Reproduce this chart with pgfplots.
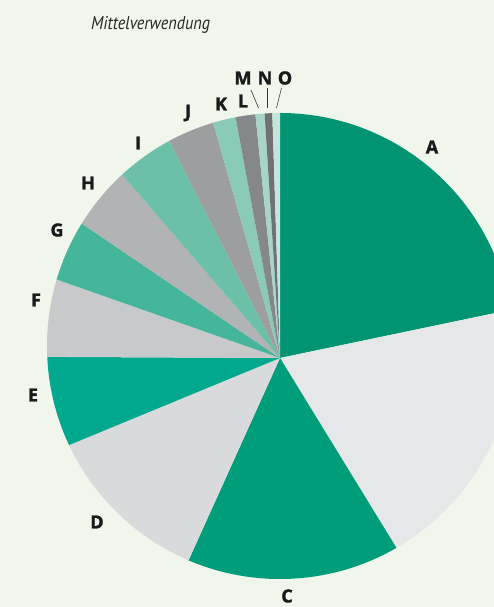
\documentclass[border=0pt]{standalone}
\usepackage{pgfplots}
\pgfplotsset{compat=1.18}
\usepackage{pgfplotstable}
\usepackage{fontspec}
\setmainfont{Open Sans}
\newfontfamily\titlefont{PT Sans}
\newfontfamily\labfont{Open Sans}[BoldFeatures={FakeBold=1.6}]

\definecolor{bg}{HTML}{F1F6EC}
\definecolor{cA}{HTML}{009473}
\definecolor{cB}{HTML}{E6E7E9}
\definecolor{cC}{HTML}{009D7B}
\definecolor{cD}{HTML}{D9DADC}
\definecolor{cE}{HTML}{00A88E}
\definecolor{cF}{HTML}{C8C9CB}
\definecolor{cG}{HTML}{46B69B}
\definecolor{cH}{HTML}{B2B3B5}
\definecolor{cI}{HTML}{6CC0A9}
\definecolor{cJ}{HTML}{9D9EA0}
\definecolor{cK}{HTML}{8ACBB8}
\definecolor{cL}{HTML}{86878A}
\definecolor{cM}{HTML}{A7D6C9}
\definecolor{cN}{HTML}{707174}
\definecolor{cO}{HTML}{C5E4DA}

% share in percent, label position
\pgfplotstableread{
label share lx ly
A 21.7 432 460
B 19.5 499 137
C 15.5 287 11
D 12.0 97 85
E 6.3 33 212
F 5.3 36 307
G 4.1 57 377
H 4.2 88 424
I 3.8 138 464
J 3.1 188 494
K 1.5 221 503
L 1.3 243 506
M 0.6 243 529
N 0.5 265 529
O 0.5 285 529
}\piedata

\pgfplotstablegetrowsof{\piedata}
\pgfmathtruncatemacro{\nrows}{\pgfplotsretval-1}
\gdef\total{0}
\foreach \i in {0,...,\nrows}{%
  \pgfplotstablegetelem{\i}{share}\of\piedata
  \pgfmathsetmacro{\t}{\total+\pgfplotsretval}%
  \xdef\total{\t}%
}

\begin{document}
\begin{tikzpicture}
\useasboundingbox (0,0) rectangle (494pt,607pt);
\clip (0,0) rectangle (494pt,607pt);
\fill[bg] (0,0) rectangle (494pt,607pt);
\begin{axis}[
  at={(0,0)}, anchor=south west,
  scale only axis, width=494pt, height=607pt,
  xmin=0, xmax=494, ymin=0, ymax=607,
  hide axis, clip=false,
]
\begin{scope}
\clip (axis cs:280,261) circle[radius=233pt];
\gdef\cum{0}
\foreach \i in {0,...,\nrows}{%
  \pgfplotstablegetelem{\i}{share}\of\piedata
  \let\v\pgfplotsretval
  \pgfplotstablegetelem{\i}{label}\of\piedata
  \let\lab\pgfplotsretval
  \pgfmathsetmacro{\aa}{90-\cum/\total*360}%
  \pgfmathsetmacro{\ab}{90-(\cum+\v)/\total*360}%
  \pgfmathsetmacro{\xa}{280+700*cos(\aa)}%
  \pgfmathsetmacro{\ya}{249+700*sin(\aa)}%
  \pgfmathsetmacro{\xb}{280+700*cos(\ab)}%
  \pgfmathsetmacro{\yb}{249+700*sin(\ab)}%
  \pgfmathsetmacro{\am}{(\aa+\ab)/2}%
  \pgfmathsetmacro{\xm}{280+700*cos(\am)}%
  \pgfmathsetmacro{\ym}{249+700*sin(\am)}%
  \edef\temp{\noexpand\fill[c\lab] (axis cs:280,249) -- (axis cs:\xa,\ya) -- (axis cs:\xm,\ym) -- (axis cs:\xb,\yb) -- cycle;}%
  \temp
  \pgfmathsetmacro{\c}{\cum+\v}%
  \xdef\cum{\c}%
}
\end{scope}
\foreach \i in {0,...,\nrows}{%
  \pgfplotstablegetelem{\i}{label}\of\piedata
  \let\lab\pgfplotsretval
  \pgfplotstablegetelem{\i}{lx}\of\piedata
  \let\lx\pgfplotsretval
  \pgfplotstablegetelem{\i}{ly}\of\piedata
  \let\ly\pgfplotsretval
  \edef\temp{\noexpand\node[font=\noexpand\labfont\noexpand\fontsize{18}{20}\noexpand\selectfont\noexpand\bfseries, text=black!90, inner sep=0pt] at (axis cs:\lx,\ly) {\lab};}%
  \temp
}
\draw[black!80, line width=0.6pt] (axis cs:251,517) -- (axis cs:258.5,499);
\draw[black!80, line width=0.6pt] (axis cs:267,519) -- (axis cs:267,499);
\draw[black!80, line width=0.6pt] (axis cs:281.5,519) -- (axis cs:276.5,499);
\node[anchor=base west, inner sep=0pt, font=\titlefont\itshape\fontsize{18.5}{20}\selectfont, text=black!85, xscale=0.88] at (axis cs:91,577) {Mittelverwendung};
\end{axis}
\end{tikzpicture}
\end{document}
